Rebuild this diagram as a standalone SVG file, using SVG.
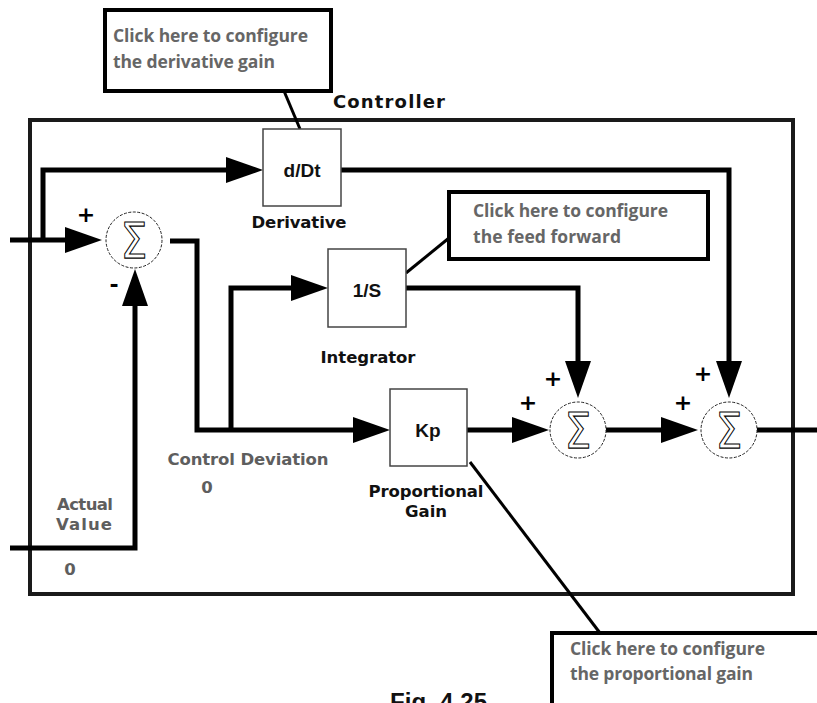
<svg xmlns="http://www.w3.org/2000/svg" width="817" height="703" viewBox="0 0 817 703">
  <defs>
    <marker id="arrow" markerUnits="userSpaceOnUse" viewBox="0 0 37 26" refX="0" refY="13" markerWidth="37" markerHeight="26" orient="auto">
      <path d="M0,0 L37,13 L0,26 Z" fill="#000"/>
    </marker>
    <style>
      .frame { fill: none; stroke: #1a1a1a; stroke-width: 4; }
      .wire { fill: none; stroke: #000; stroke-width: 5; }
      .leader { fill: none; stroke: #000; stroke-width: 3; }
      .block { fill: #fff; stroke: #444; stroke-width: 1.5; }
      .callout { fill: #fff; stroke: #000; stroke-width: 4; }
      .sum { fill: #fff; stroke: #222; stroke-width: 1; stroke-dasharray: 3 1.5; }
      .sigma { font-family: "DejaVu Sans", sans-serif; font-size: 50px; fill: none; stroke: #000; stroke-width: 1.1; text-anchor: middle; }
      .sign { font-family: "DejaVu Sans", sans-serif; font-weight: bold; font-size: 22px; fill: #000; text-anchor: middle; }
      .blocktxt { font-family: "Liberation Sans", Arial, sans-serif; font-weight: bold; font-size: 19px; fill: #111; text-anchor: middle; }
      .label { font-family: "DejaVu Sans", Verdana, sans-serif; font-weight: bold; font-size: 16.5px; fill: #111; text-anchor: middle; }
      .grey { font-family: "DejaVu Sans", Verdana, sans-serif; font-weight: bold; font-size: 16.5px; fill: #5e5e5e; text-anchor: middle; }
      .note { font-family: "Open Sans", "Noto Sans", sans-serif; font-weight: bold; font-size: 17.5px; fill: #666; }
      .title { font-family: "DejaVu Sans", Verdana, sans-serif; font-weight: bold; font-size: 18px; fill: #111; }
      .fig { font-family: "Liberation Sans", Arial, sans-serif; font-weight: bold; font-size: 24px; fill: #111; }
    </style>
  </defs>

  <rect width="817" height="703" fill="#fff"/>

  <!-- controller enclosure -->
  <g id="controller">
    <rect class="frame" x="30" y="120" width="763" height="474"/>
    <text class="title" x="333" y="108" textLength="112">Controller</text>
  </g>

  <!-- signal wires -->
  <g id="connectors">
    <path class="wire" d="M10,240 H65" marker-end="url(#arrow)"/>
    <path class="wire" d="M43,242 V170 H226" marker-end="url(#arrow)"/>
    <path class="wire" d="M341,170 H729 V361" marker-end="url(#arrow)"/>
    <path class="wire" d="M170,241 H197 V430 H353" marker-end="url(#arrow)"/>
    <path class="wire" d="M231,430 V288 H291" marker-end="url(#arrow)"/>
    <path class="wire" d="M406,288 H578 V361" marker-end="url(#arrow)"/>
    <path class="wire" d="M467,430 H512" marker-end="url(#arrow)"/>
    <path class="wire" d="M606,430 H661" marker-end="url(#arrow)"/>
    <path class="wire" d="M757,430 H817"/>
    <path class="wire" d="M10,548 H135 V306" marker-end="url(#arrow)"/>
    <path class="leader" d="M284,91 L300,129"/>
    <path class="leader" d="M406,273 L449,238"/>
    <path class="leader" d="M470,462 L600,633"/>
  </g>

  <!-- summing junctions -->
  <g id="sum-error">
    <circle class="sum" cx="134" cy="240" r="28"/>
    <text class="sigma" transform="translate(134,258) scale(0.85,1)">Σ</text>
    <text class="sign" x="86" y="222">+</text>
    <text class="sign" x="114" y="292" font-size="26">-</text>
  </g>
  <g id="sum-pi">
    <circle class="sum" cx="578" cy="430" r="28"/>
    <text class="sigma" transform="translate(578,448) scale(0.85,1)">Σ</text>
    <text class="sign" x="553" y="386">+</text>
    <text class="sign" x="528" y="410">+</text>
  </g>
  <g id="sum-out">
    <circle class="sum" cx="729" cy="430" r="28"/>
    <text class="sigma" transform="translate(729,448) scale(0.85,1)">Σ</text>
    <text class="sign" x="703" y="381">+</text>
    <text class="sign" x="683" y="410">+</text>
  </g>

  <!-- transfer blocks -->
  <g id="derivative">
    <rect class="block" x="263" y="129" width="78" height="77"/>
    <text class="blocktxt" x="302" y="177">d/Dt</text>
    <text class="label" x="299" y="228" textLength="95">Derivative</text>
  </g>
  <g id="integrator">
    <rect class="block" x="328" y="249" width="78" height="78"/>
    <text class="blocktxt" x="367" y="297">1/S</text>
    <text class="label" x="368" y="363" textLength="95">Integrator</text>
  </g>
  <g id="proportional">
    <rect class="block" x="390" y="389" width="77" height="77"/>
    <text class="blocktxt" x="428" y="437">Kp</text>
    <text class="label" x="426" y="497" textLength="115">Proportional</text>
    <text class="label" x="426" y="517" textLength="42">Gain</text>
  </g>

  <!-- signal readouts -->
  <g id="control-deviation">
    <text class="grey" x="248" y="465" textLength="161">Control Deviation</text>
    <text class="grey" x="207" y="493">0</text>
  </g>
  <g id="actual-value">
    <text class="grey" x="85" y="510" textLength="56">Actual</text>
    <text class="grey" x="84" y="530" textLength="56">Value</text>
    <text class="grey" x="70" y="575">0</text>
  </g>

  <!-- configuration hints -->
  <g id="note-derivative">
    <rect class="callout" x="105" y="10" width="226" height="81"/>
    <text class="note" x="113" y="42" textLength="195">Click here to configure</text>
    <text class="note" x="113" y="68" textLength="162">the derivative gain</text>
  </g>
  <g id="note-feedforward">
    <rect class="callout" x="449" y="192" width="259" height="67"/>
    <text class="note" x="473" y="217" textLength="195">Click here to configure</text>
    <text class="note" x="473" y="243" textLength="148">the feed forward</text>
  </g>
  <g id="note-proportional">
    <rect class="callout" x="552" y="633" width="272" height="80"/>
    <text class="note" x="570" y="655" textLength="195">Click here to configure</text>
    <text class="note" x="570" y="680" textLength="183">the proportional gain</text>
  </g>

  <text class="fig" x="390" y="710" textLength="97">Fig. 4.25</text>
</svg>
